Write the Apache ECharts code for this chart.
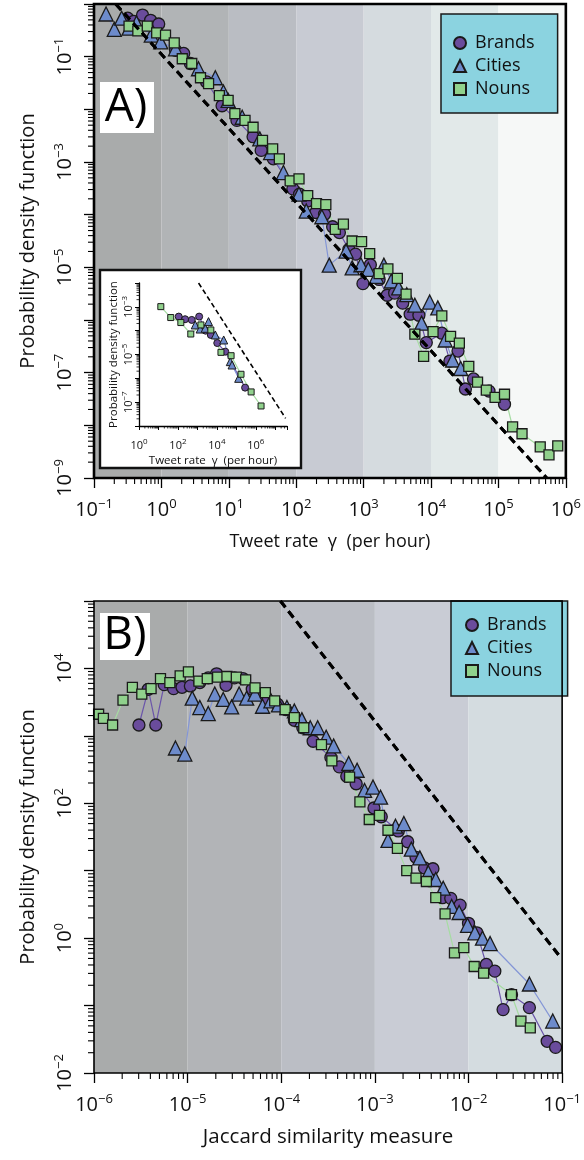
<!DOCTYPE html>
<html><head><meta charset="utf-8">
<script src="https://cdn.jsdelivr.net/npm/echarts@6.0.0/dist/echarts.min.js"></script>
<style>html,body{margin:0;padding:0;background:#fff}#c{width:584px;height:1160px}</style>
</head><body><div id="c"></div>
<script>
// ---------------- DATA ----------------
const seriesNames = ['Brands', 'Cities', 'Nouns'];

// Panel A (main): tweet rate (per hour) vs probability density
const brandsA = [[0.316,0.537],[0.389,0.468],[0.525,0.617],[0.692,0.490],[0.912,0.417],[1.62,0.132],[2.14,0.115],[2.69,0.0741],[4.68,0.0331],[7.94,0.0117],[13.2,6.17e-3],[22.9,3.02e-3],[30.2,1.66e-3],[45.7,1.15e-3],[89.1,3.09e-4],[112,2.45e-4],[148,1.82e-4],[195,1.10e-4],[263,1.02e-4],[347,5.89e-5],[437,4.57e-5],[603,2.19e-5],[759,1.78e-5],[977,4.90e-6],[1259,1.12e-5],[1698,5.89e-6],[2239,2.95e-6],[2884,3.24e-6],[3802,2.09e-6],[4898,1.29e-6],[6607,1.23e-6],[8511,3.72e-7],[14454,5.62e-7],[19055,1.66e-7],[25119,2.57e-7],[32359,4.90e-8],[42658,7.59e-8],[72444,4.47e-8],[123027,2.51e-8]];
const citiesA = [[0.151,0.646],[0.200,0.331],[0.257,0.537],[0.331,0.347],[0.427,0.437],[0.708,0.257],[0.977,0.191],[1.62,0.141],[3.55,0.0589],[6.31,0.0398],[8.32,0.0214],[9.77,0.0148],[15.8,7.08e-3],[28.8,2.75e-3],[41.7,1.51e-3],[64.6,6.31e-4],[110,2.45e-4],[141,1.17e-4],[240,9.12e-5],[309,1.10e-5],[550,2.04e-5],[676,9.77e-6],[912,1.12e-5],[1175,9.12e-6],[1549,6.76e-6],[1995,1.10e-5],[2570,5.50e-6],[3311,4.07e-6],[4365,3.02e-6],[5754,1.91e-6],[7244,8.71e-7],[9550,2.19e-6],[12589,1.70e-6],[16218,4.17e-7],[20893,1.74e-7],[27542,1.20e-7]];
const nounsA = [[0.331,0.380],[0.447,0.309],[0.617,0.380],[0.851,0.282],[1.15,0.257],[1.55,0.182],[2.04,0.0912],[2.82,0.0741],[3.80,0.0398],[5.01,0.0309],[7.24,0.0182],[9.77,0.0148],[12.3,8.32e-3],[17.4,6.17e-3],[22.9,4.57e-3],[31.6,2.57e-3],[44.7,1.78e-3],[56.2,1.15e-3],[81.3,4.37e-4],[110,4.79e-4],[148,2.29e-4],[200,1.62e-4],[275,1.55e-4],[380,5.25e-5],[501,6.61e-5],[676,3.16e-5],[933,3.09e-5],[1230,1.82e-5],[1698,7.59e-6],[2291,9.33e-6],[3162,6.17e-6],[4266,3.09e-6],[5754,5.37e-7],[7762,2.04e-7],[10715,6.03e-7],[14454,1.20e-6],[19498,4.90e-7],[26303,3.63e-7],[36308,1.32e-7],[48978,6.61e-8],[66069,4.68e-8],[89125,3.39e-8],[123027,3.89e-8],[162181,9.33e-9],[223872,6.92e-9],[416869,3.89e-9],[562341,2.75e-9],[758578,4.07e-9]];
const refLineA = [[0.21, 1], [5.2e5, 1e-9]];

// Panel A inset
const brandsInset = [[110,3.89e-4],[234,3.02e-4],[513,2.82e-4],[1230,3.89e-4],[2630,1.0e-4],[4898,6.61e-5],[10471,3.02e-5],[26915,1.32e-5],[281838,4.07e-7]];
const citiesInset = [[776,1.74e-4],[1380,1.17e-4],[2512,1.26e-4],[3715,2.40e-4],[8318,6.61e-5],[22387,4.07e-5],[48978,5.01e-6],[60256,3.63e-6],[131826,1.0e-6]];
const nounsInset = [[13.2,1.02e-3],[42.7,3.55e-4],[141,2.19e-4],[457,7.24e-5],[1514,1.74e-4],[4898,1.07e-4],[16218,1.23e-5],[53703,8.91e-6],[173780,1.48e-6],[575440,2.69e-7],[1.86e6,6.92e-8]];
const refLineInset = [[1148, 1e-2], [3.4e7, 2.1e-8]];

// Panel B: Jaccard similarity vs probability density
const brandsB = [[3.02e-6,1450],[3.80e-6,4900],[4.57e-6,1450],[5.62e-6,5750],[7.08e-6,5010],[8.71e-6,5250],[1.07e-5,5500],[1.35e-5,6170],[1.66e-5,7240],[2.04e-5,8320],[2.57e-5,5620],[3.16e-5,7240],[3.89e-5,7080],[4.90e-5,4900],[6.03e-5,4170],[7.24e-5,3390],[9.12e-5,2950],[1.12e-4,2450],[1.38e-4,1700],[1.70e-4,1320],[2.19e-4,832],[3.39e-4,479],[4.17e-4,347],[5.01e-4,251],[6.31e-4,195],[9.77e-4,85.1],[1.17e-3,63.1],[1.78e-3,38.9],[2.24e-3,26.9],[2.75e-3,15.8],[3.39e-3,11.0],[4.17e-3,10.7],[5.25e-3,3.98],[6.46e-3,3.89],[8.13e-3,3.09],[1.0e-2,1.66],[1.23e-2,1.20],[1.55e-2,0.407],[1.91e-2,0.324],[2.34e-2,0.0871],[2.88e-2,0.145],[4.47e-2,0.0933],[6.92e-2,0.0295],[8.51e-2,0.0240]];
const citiesB = [[7.41e-6,661],[9.33e-6,537],[1.12e-5,3630],[1.35e-5,2630],[1.66e-5,2140],[1.95e-5,4170],[2.40e-5,3470],[2.95e-5,2690],[3.55e-5,4170],[4.27e-5,3630],[5.25e-5,4170],[6.31e-5,2750],[7.76e-5,3310],[9.33e-5,2880],[1.15e-4,2630],[1.38e-4,2340],[1.66e-4,1740],[2.04e-4,1320],[2.45e-4,1320],[3.02e-4,955],[3.63e-4,708],[5.25e-4,389],[6.46e-4,309],[7.76e-4,155],[9.55e-4,174],[1.15e-3,123],[1.38e-3,28.2],[1.66e-3,45.7],[2.04e-3,50.1],[2.45e-3,20.9],[3.02e-3,15.5],[3.72e-3,9.33],[4.47e-3,7.41],[5.37e-3,5.50],[6.61e-3,2.95],[7.94e-3,2.40],[9.77e-3,1.55],[1.17e-2,1.20],[1.41e-2,1.0],[1.70e-2,0.832],[4.47e-2,0.209],[7.94e-2,0.0589]];
const nounsB = [[1.12e-6,2090],[1.26e-6,1820],[1.58e-6,1450],[2.04e-6,3390],[2.57e-6,5250],[3.24e-6,4170],[4.07e-6,5010],[5.13e-6,7080],[6.46e-6,6170],[8.32e-6,7760],[1.02e-5,8910],[1.32e-5,6460],[1.62e-5,7080],[2.09e-5,7410],[2.63e-5,7590],[3.31e-5,7410],[4.17e-5,6760],[5.25e-5,5130],[6.76e-5,4370],[8.51e-5,3310],[1.10e-4,2450],[1.38e-4,1860],[1.74e-4,1320],[2.69e-4,741],[3.47e-4,427],[5.37e-4,245],[6.92e-4,105],[8.71e-4,57.5],[1.12e-3,66.1],[1.38e-3,39.8],[1.74e-3,21.4],[2.19e-3,10.0],[2.75e-3,7.76],[3.55e-3,6.92],[4.47e-3,3.98],[5.62e-3,2.29],[7.08e-3,0.603],[8.91e-3,0.724],[1.15e-2,0.380],[1.45e-2,0.302],[2.88e-2,0.145],[3.63e-2,0.0589],[4.57e-2,0.0468]];
const refLineB = [[9.8e-5, 1e5], [9.3e-2, 0.55]];

// tick label exponents (powers of ten shown)
const tickExpAx = [-1, 0, 1, 2, 3, 4, 5, 6];
const tickExpAy = [-1, -3, -5, -7, -9];
const tickExpInsetX = [0, 2, 4, 6];
const tickExpInsetY = [-3, -5, -7];
const tickExpBx = [-6, -5, -4, -3, -2, -1];
const tickExpBy = [4, 2, 0, -2];

// ---------------- STYLE ----------------
const FONT = '"Open Sans", "Noto Sans", sans-serif';
const INK = '#111';
const bandColorsA = ['#a9abab', '#b1b4b6', '#babdc3', '#c8cbd3', '#d5dbdf', '#e2e9e9', '#f6f8f7'];
const bandColorsB = ['#a9abab', '#b2b4b7', '#bbbec5', '#c9ccd5', '#d4dce0'];
const STYLE = {
  Brands: { symbol: 'circle', fill: '#6a4c9c', line: '#6b55aa', size: 12, sizeIn: 7 },
  Cities: { symbol: 'triangle', fill: '#6d8bcb', line: '#8496d6', size: 14, sizeIn: 8 },
  Nouns:  { symbol: 'rect', fill: '#90d18c', line: '#a6dca2', size: 10, sizeIn: 6 }
};

function expFormatter(exps) {
  return function (v) {
    const l = Math.log10(v), e = Math.round(l);
    if (Math.abs(l - e) > 1e-6 || exps.indexOf(e) < 0) return '';
    return '10{sup|' + (e < 0 ? '\u2212' : '') + Math.abs(e) + '}';
  };
}
function logAxis(o) {
  return {
    type: 'log', logBase: 10, gridIndex: o.grid, min: o.min, max: o.max, z: o.z,
    name: o.name || '', nameLocation: 'middle', nameGap: o.nameGap || 0,
    nameTextStyle: { fontFamily: FONT, fontSize: o.nameSize || 12, color: INK },
    axisLine: { show: !!o.line, lineStyle: { color: '#000', width: o.lw || 1.5 } },
    axisTick: { show: true, inside: false, length: o.tick, lineStyle: { color: '#000', width: o.tw || 1.3 } },
    splitLine: { show: false }, minorTick: { show: false },
    axisLabel: {
      show: true, showMinLabel: true, showMaxLabel: true, hideOverlap: false,
      formatter: expFormatter(o.exps), rotate: o.rotate || 0, margin: o.margin,
      fontFamily: FONT, fontSize: o.fs, color: INK, lineHeight: o.fs + 4,
      rich: { sup: { fontFamily: FONT, fontSize: o.sfs, lineHeight: o.sfs, verticalAlign: 'top', color: INK } }
    }
  };
}
function minorVals(n0, n1, maxV) {
  const out = [];
  for (let n = n0; n <= n1; n++) for (let k = 2; k <= 9; k++) { const v = k * Math.pow(10, n); if (v < maxV) out.push(v); }
  return out;
}
function minorSeries(idx, xs, ys, xMin, yMin, len, lw, z) {
  const data = xs.map(v => [v, yMin, 0]).concat(ys.map(v => [xMin, v, 1]));
  return {
    type: 'custom', xAxisIndex: idx, yAxisIndex: idx, data: data, silent: true, clip: false, z: z, animation: false,
    renderItem: function (p, api) {
      const c = api.coord([api.value(0), api.value(1)]);
      const d = api.value(2);
      return { type: 'line', shape: d === 0 ? { x1: c[0], y1: c[1], x2: c[0], y2: c[1] + len } : { x1: c[0] - len, y1: c[1], x2: c[0], y2: c[1] },
        style: { stroke: '#000', lineWidth: lw } };
    }
  };
}
function dataSeries(name, data, idx, inset) {
  const s = STYLE[name];
  return {
    type: 'line', name: name, data: data, xAxisIndex: idx, yAxisIndex: idx,
    symbol: s.symbol, symbolSize: inset ? s.sizeIn : s.size, showSymbol: true, showAllSymbol: true,
    itemStyle: { color: s.fill, borderColor: '#1a1a1a', borderWidth: inset ? 1 : 1.3 },
    lineStyle: { color: s.line, width: 1.2 }, z: inset ? 13 : 2, silent: true, animation: false
  };
}
function bands(lo, colors) {
  return colors.map((c, i) => [{ xAxis: Math.pow(10, lo + i), itemStyle: { color: c } }, { xAxis: Math.pow(10, lo + i + 1) }]);
}
function refSeries(data, idx, width, dash, z, bandLo, bandColors) {
  const s = { type: 'line', data: data, xAxisIndex: idx, yAxisIndex: idx, symbol: 'none', silent: true, animation: false,
    lineStyle: { color: '#000', width: width, type: dash }, z: z };
  if (bandColors) s.markArea = { silent: true, data: bands(bandLo, bandColors) };
  return s;
}
function legendAt(left, top, pad) {
  return {
    left: left, top: top, orient: 'vertical', padding: pad, itemGap: 1, itemWidth: 12, itemHeight: 12,
    backgroundColor: '#8bd3e0', borderColor: '#1a1a1a', borderWidth: 1.5, selectedMode: false,
    textStyle: { fontFamily: FONT, fontSize: 18, color: INK, lineHeight: 22, padding: [0, 0, 0, 4] },
    data: [{ name: 'Brands', icon: 'circle' }, { name: 'Cities', icon: 'triangle' }, { name: 'Nouns', icon: 'rect' }]
  };
}

const chart = echarts.init(document.getElementById('c'), null, { renderer: 'canvas' });
const option = {
  animation: false,
  backgroundColor: '#fff',
  grid: [
    { left: 94, top: 4, width: 472, height: 474, show: true, backgroundColor: 'transparent', borderColor: '#000', borderWidth: 2.6, z: 10 },
    { left: 139, top: 283, width: 148, height: 143, show: false },
    { left: 94, top: 601, width: 472, height: 472, show: true, backgroundColor: 'transparent', borderColor: '#000', borderWidth: 1.6, z: 10 }
  ],
  xAxis: [
    logAxis({ grid: 0, min: 0.1, max: 1e6, z: 10, exps: tickExpAx, tick: 10, margin: 20, fs: 20, sfs: 13,
      name: 'Tweet rate  \u03b3  (per hour)', nameGap: 55, nameSize: 18 }),
    logAxis({ grid: 1, min: 1, max: 4e7, z: 14, exps: tickExpInsetX, tick: 4, margin: 12, fs: 11, sfs: 8, line: true, lw: 1.3, tw: 1,
      name: 'Tweet rate  \u03b3  (per hour)', nameGap: 29, nameSize: 11.5 }),
    logAxis({ grid: 2, min: 1e-6, max: 0.1, z: 10, exps: tickExpBx, tick: 10, margin: 20, fs: 20, sfs: 13,
      name: 'Jaccard similarity measure', nameGap: 54, nameSize: 20.5 })
  ],
  yAxis: [
    logAxis({ grid: 0, min: 1e-9, max: 1, z: 10, exps: tickExpAy, tick: 10, margin: 17, fs: 20, sfs: 13, rotate: 90,
      name: 'Probability density function', nameGap: 56, nameSize: 20 }),
    logAxis({ grid: 1, min: 1e-8, max: 1e-2, z: 14, exps: tickExpInsetY, tick: 4, margin: 3, fs: 11, sfs: 8, rotate: 90, line: true, lw: 1.3, tw: 1,
      name: 'Probability density function', nameGap: 18, nameSize: 11.5 }),
    logAxis({ grid: 2, min: 1e-2, max: 1e5, z: 10, exps: tickExpBy, tick: 10, margin: 17, fs: 20, sfs: 13, rotate: 90,
      name: 'Probability density function', nameGap: 56, nameSize: 20 })
  ],
  legend: [legendAt(441, 14, [18, 23, 13, 12]), legendAt(451, 601, [13, 21, 14, 14])],
  graphic: { elements: [
    { type: 'rect', shape: { x: 100, y: 270, width: 201, height: 198 }, style: { fill: '#fff', stroke: '#111', lineWidth: 2.4 }, z: 5, silent: true },
    { type: 'rect', shape: { x: 100, y: 82, width: 54, height: 51 }, style: { fill: '#fff' }, z: 20, silent: true },
    { type: 'text', x: 126, y: 108, style: { text: 'A)', font: '46px "Open Sans"', fill: '#000', align: 'center', verticalAlign: 'middle' }, z: 21, silent: true },
    { type: 'rect', shape: { x: 100, y: 613, width: 50, height: 47 }, style: { fill: '#fff' }, z: 20, silent: true },
    { type: 'text', x: 125, y: 636, style: { text: 'B)', font: '46px "Open Sans"', fill: '#000', align: 'center', verticalAlign: 'middle' }, z: 21, silent: true }
  ] },
  series: [
    refSeries(refLineA, 0, 3, [8, 5], 3, -1, bandColorsA),
    dataSeries('Brands', brandsA, 0, false),
    dataSeries('Cities', citiesA, 0, false),
    dataSeries('Nouns', nounsA, 0, false),
    refSeries(refLineA, 0, 3, [8, 5], 4),
    minorSeries(0, minorVals(-1, 5, 1e6), minorVals(-9, -1, 1), 0.1, 1e-9, 6, 1.1, 11),

    refSeries(refLineInset, 1, 1.6, [5, 3], 13),
    dataSeries('Brands', brandsInset, 1, true),
    dataSeries('Cities', citiesInset, 1, true),
    dataSeries('Nouns', nounsInset, 1, true),
    minorSeries(1, minorVals(0, 7, 4e7), minorVals(-8, -3, 1e-2), 1, 1e-8, 2.5, 0.8, 14),

    refSeries(refLineB, 2, 3, [8, 5], 3, -6, bandColorsB),
    dataSeries('Brands', brandsB, 2, false),
    dataSeries('Cities', citiesB, 2, false),
    dataSeries('Nouns', nounsB, 2, false),
    refSeries(refLineB, 2, 3, [8, 5], 4),
    minorSeries(2, minorVals(-6, -2, 0.1), minorVals(-2, 4, 1e5), 1e-6, 1e-2, 6, 1.1, 11)
  ]
};
chart.setOption(option);
</script></body></html>
